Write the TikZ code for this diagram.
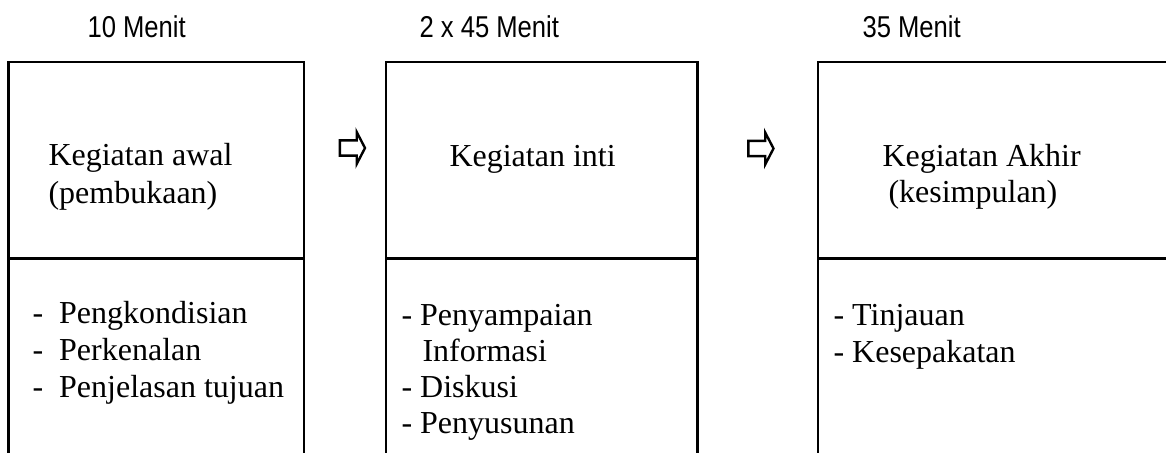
\documentclass[tikz,border=0pt]{standalone}
\usepackage{fontspec}
\setmainfont{Liberation Serif}
\newfontfamily\menitfont[FakeStretch=0.85]{Liberation Sans}
\usetikzlibrary{shapes.arrows}
\begin{document}
\begin{tikzpicture}[x=0.375pt,y=-0.375pt,
    kotak/.style={line width=0.85pt},
    isi/.style={anchor=base west,inner sep=0pt,font=\fontsize{12}{14}\selectfont},
    waktu/.style={anchor=base west,inner sep=0pt,font=\menitfont\fontsize{11.3}{13}\selectfont},
    panah/.style={draw,line width=0.9pt,single arrow,inner sep=2.4pt,
        minimum height=9.4pt,single arrow head extend=3.1pt,single arrow tip angle=125}]
    \useasboundingbox (0,0) rectangle (1166,452);
    \clip (0,0) rectangle (1166,452);

    % Kotak kegiatan
    \foreach \kiri/\kanan in {8.5/303.7, 385.7/697.5, 817.7/1180} {
        \draw[kotak] (\kiri,470) |- (\kanan,62) -- (\kanan,470);
        \draw[kotak] (\kiri,258.5) -- (\kanan,258.5);
    }

    % Waktu
    \node[waktu] (waktu1) at (87,37) {10 Menit};
    \node[waktu] (waktu2) at (419,37) {2 x 45 Menit};
    \node[waktu] (waktu3) at (862,37) {35 Menit};

    % Panah
    \node[panah] (panah1) at (350.5,148) {};
    \node[panah] (panah2) at (759,148.5) {};

    % Kegiatan awal
    \node[isi] (awal1) at (48,165) {Kegiatan awal};
    \node[isi] (awal2) at (48,203) {(pembukaan)};
    \foreach \y/\val in {
        323/Pengkondisian,
        360/Perkenalan,
        397/Penjelasan tujuan
        } {
        \node[isi] (awal-\y) at (32,\y) {\makebox[10pt][l]{-}\val};
    }

    % Kegiatan inti
    \node[isi] (inti1) at (449,166) {Kegiatan inti};
    \foreach \x/\y/\val in {
        401/325/- Penyampaian,
        422/361/Informasi,
        401/397/- Diskusi,
        401/433/- Penyusunan
        } {
        \node[isi] (inti-\y) at (\x,\y) {\val};
    }

    % Kegiatan akhir
    \node[isi] (akhir1) at (882,166) {Kegiatan Akhir};
    \node[isi] (akhir2) at (888,202) {(kesimpulan)};
    \foreach \y/\val in {
        325/- Tinjauan,
        362/- Kesepakatan
        } {
        \node[isi] (akhir-\y) at (833,\y) {\val};
    }
\end{tikzpicture}
\end{document}
